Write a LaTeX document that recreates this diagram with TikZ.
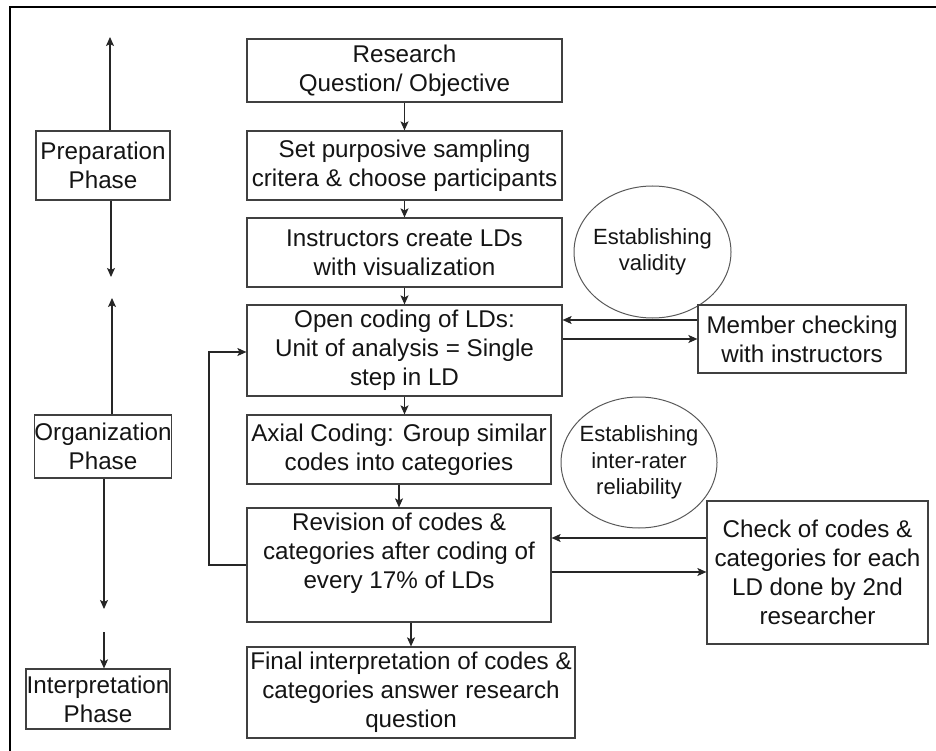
\documentclass[tikz,border=0pt]{standalone}
\usepackage{fontspec}
\setmainfont{Liberation Sans}
\usetikzlibrary{arrows.meta,shapes.geometric}
\begin{document}
\begin{tikzpicture}[x=1pt,y=-1pt,
  box/.style={draw=black!75, line width=1.2pt, rectangle, inner sep=0pt,
    align=center, font=\fontsize{24.2}{29}\selectfont, text=black!92},
  oval/.style={draw=black!65, line width=1pt, ellipse, inner sep=0pt},
  ovaltext/.style={align=center, inner sep=0pt, text=black!92,
    font=\fontsize{22}{26.5}\selectfont},
  arr/.style={draw=black!85, line width=1.1pt,
    -{Stealth[length=9pt,width=8pt,inset=2pt]}},
  frame/.style={draw=black, line width=2.2pt}]
\useasboundingbox (0,0) rectangle (936,751);

% outer frame (left and top edges)
\draw[frame] (10,751) -- (10,7) -- (936,7);

% ovals
\node[oval, minimum width=157pt, minimum height=132pt] (valid) at (652.5,252) {};
\node[ovaltext] (validtext) at (valid) {Establishing\\validity};
\node[oval, minimum width=156pt, minimum height=131pt] (reliab) at (639,462.5) {};
\node[ovaltext] (reliabtext) at (reliab) {Establishing\\inter-rater\\reliability};

% main column
\node[box, minimum width=315pt, minimum height=63pt] (research) at (404.5,70.5)
  {Research\\Question/ Objective};
\node[box, minimum width=315pt, minimum height=69pt] (setp) at (404.5,165.5)
  {Set purposive sampling\\critera \& choose participants};
\node[box, minimum width=315pt, minimum height=69pt] (instr) at (404.5,252.5)
  {Instructors create LDs\\with visualization};
\node[box, minimum width=315pt, minimum height=91pt] (open) at (404.5,350.5)
  {Open coding of LDs:\\Unit of analysis = Single\\step in LD};
\node[box, minimum width=304pt, minimum height=69pt] (axial) at (399,449.5)
  {Axial Coding: Group similar\\codes into categories};
\node[box, minimum width=304pt, minimum height=114pt] (revision) at (399,565)
  {Revision of codes \&\\categories after coding of\\every 17\% of LDs\\\mbox{}};
\node[box, minimum width=328pt, minimum height=91pt] (final) at (411,692.5)
  {Final interpretation of codes \&\\categories answer research\\question};

% right column
\node[box, minimum width=208pt, minimum height=68pt] (member) at (802,339)
  {Member checking\\with instructors};
\node[box, minimum width=221pt, minimum height=143pt] (check) at (817.5,572.5)
  {Check of codes \&\\categories for each\\LD done by 2nd\\researcher};

% phase column
\node[box, minimum width=134pt, minimum height=69pt] (prep) at (103,165.5)
  {Preparation\\Phase};
\node[box, minimum width=134pt, minimum height=63pt] (org) at (103,446.5)
  {Organization\\Phase};
\node[box, minimum width=144pt, minimum height=60pt] (interp) at (98,699)
  {Interpretation\\Phase};

% phase arrows
\coordinate (prepTop) at (110,37);
\coordinate (prepBot) at (111,277);
\coordinate (orgTop) at (112,298);
\coordinate (orgBot) at (104,609);
\coordinate (interpIn) at (104,632);
\draw[arr] (prep.north -| prepTop) -- (prepTop);
\draw[arr] (prep.south -| prepBot) -- (prepBot);
\draw[arr] (org.north -| orgTop) -- (orgTop);
\draw[arr] (org.south -| orgBot) -- (orgBot);
\draw[arr] (interpIn) -- (interpIn |- interp.north);

% main flow
\draw[arr] (research) -- (setp);
\draw[arr] (setp) -- (instr);
\draw[arr] (instr) -- (open);
\draw[arr] (open.south) -- (open.south |- axial.north);
\draw[arr] (axial) -- (revision);
\draw[arr] (final.north |- revision.south) -- (final.north);

% feedback loops
\draw[arr] (member.west |- 0,320) -- (open.east |- 0,320);
\draw[arr] (open.east |- 0,339) -- (member.west |- 0,339);
\draw[arr] (check.west |- 0,538) -- (revision.east |- 0,538);
\draw[arr] (revision.east |- 0,572) -- (check.west |- 0,572);
\coordinate (loopB) at (209,565);
\coordinate (loopT) at (209,352);
\draw[arr] (revision.west |- loopB) -- (loopB) -- (loopT) -- (open.west |- loopT);
\end{tikzpicture}
\end{document}
